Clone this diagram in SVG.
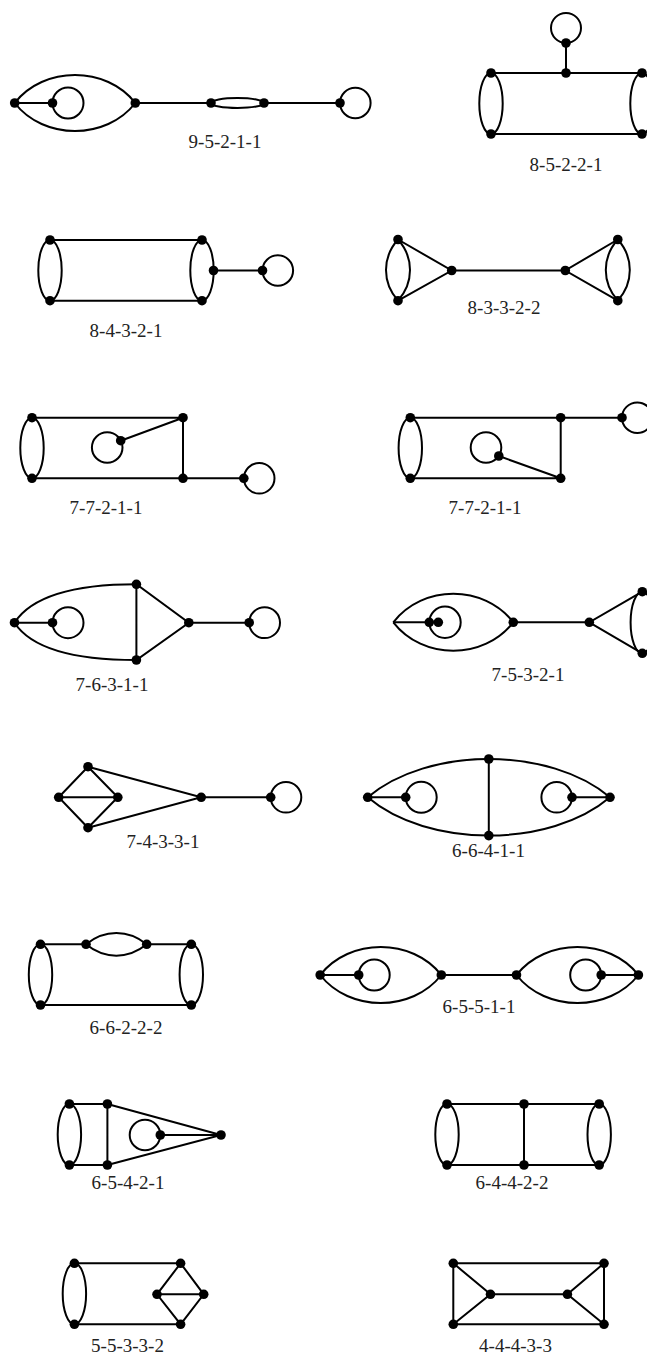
<svg xmlns="http://www.w3.org/2000/svg" width="647" height="1354" viewBox="0 0 647 1354">
<style>
.e{fill:none;stroke:#000;stroke-width:2}
.v{fill:#000}
.lb{font-family:"Liberation Serif","DejaVu Serif",serif;font-size:19px;fill:#222;text-anchor:middle}
</style>
<rect width="647" height="1354" fill="#fff"/>

<g id="graph-9-5-2-1-1">
<g class="e">
<path d="M14.7,103 C43.6,65.7 106.4,65.7 135.3,103 M14.7,103 C43.6,140.3 106.4,140.3 135.3,103"/>
<path d="M14.7,103 H52.5"/>
<circle cx="68" cy="103" r="15.5"/>
<path d="M135.3,103 H211"/>
<ellipse cx="237.5" cy="103" rx="26.5" ry="5"/>
<path d="M264,103 H340"/>
<circle cx="355.3" cy="103" r="15.3"/>
</g>
<g class="v">
<circle cx="14.7" cy="103" r="4.8"/><circle cx="52.5" cy="103" r="4.8"/><circle cx="135.3" cy="103" r="4.8"/>
<circle cx="211" cy="103" r="4.8"/><circle cx="264" cy="103" r="4.8"/><circle cx="340" cy="103" r="4.8"/>
</g>
<text class="lb" x="225" y="148">9-5-2-1-1</text>
</g>

<g id="graph-8-5-2-2-1">
<g class="e">
<path d="M491,73 H642 M491,134 H642 M566,73 V43"/>
<circle cx="566" cy="28" r="15"/>
<ellipse cx="491" cy="103.5" rx="11.7" ry="30.5"/>
<ellipse cx="642" cy="103.5" rx="11.7" ry="30.5"/>
</g>
<g class="v">
<circle cx="491" cy="73" r="4.8"/><circle cx="566" cy="73" r="4.8"/><circle cx="642" cy="73" r="4.8"/>
<circle cx="491" cy="134" r="4.8"/><circle cx="642" cy="134" r="4.8"/><circle cx="566" cy="43" r="4.8"/>
</g>
<text class="lb" x="566" y="171">8-5-2-2-1</text>
</g>

<g id="graph-8-4-3-2-1">
<g class="e">
<path d="M50,240 H202 M50,300.7 H202 M213.5,270.5 H262.5"/>
<circle cx="277.8" cy="270.5" r="15.3"/>
<ellipse cx="50" cy="270.35" rx="11.7" ry="30.35"/>
<ellipse cx="202" cy="270.35" rx="11.7" ry="30.35"/>
</g>
<g class="v">
<circle cx="50" cy="240" r="4.8"/><circle cx="50" cy="300.7" r="4.8"/><circle cx="202" cy="240" r="4.8"/>
<circle cx="202" cy="300.7" r="4.8"/><circle cx="213.5" cy="270.5" r="4.8"/><circle cx="262.5" cy="270.5" r="4.8"/>
</g>
<text class="lb" x="126" y="337">8-4-3-2-1</text>
</g>

<g id="graph-8-3-3-2-2">
<g class="e">
<path d="M398,239.5 L451.7,270.5 L398,300.7 M451.7,270.5 H565.3 M617.8,239.5 L565.3,270.5 L617.8,300.7"/>
<path d="M398,239.5 C382,257.4 382,282.8 398,300.7 M398,239.5 C414,257.4 414,282.8 398,300.7"/>
<path d="M617.8,239.5 C601.8,257.4 601.8,282.8 617.8,300.7 M617.8,239.5 C633.8,257.4 633.8,282.8 617.8,300.7"/>
</g>
<g class="v">
<circle cx="398" cy="239.5" r="4.8"/><circle cx="398" cy="300.7" r="4.8"/><circle cx="451.7" cy="270.5" r="4.8"/>
<circle cx="565.3" cy="270.5" r="4.8"/><circle cx="617.8" cy="239.5" r="4.8"/><circle cx="617.8" cy="300.7" r="4.8"/>
</g>
<text class="lb" x="504" y="314">8-3-3-2-2</text>
</g>

<g id="graph-7-7-2-1-1-a">
<g class="e">
<path d="M32,417.7 H183 V478.3 H32 M120.7,440.7 L183,417.7 M183,478.3 H243.8"/>
<circle cx="107.2" cy="447.5" r="15.3"/>
<circle cx="259.2" cy="478.3" r="15.3"/>
<ellipse cx="32" cy="448" rx="11.7" ry="30.3"/>
</g>
<g class="v">
<circle cx="32" cy="417.7" r="4.8"/><circle cx="32" cy="478.3" r="4.8"/><circle cx="183" cy="417.7" r="4.8"/>
<circle cx="183" cy="478.3" r="4.8"/><circle cx="120.7" cy="440.7" r="4.8"/><circle cx="243.8" cy="478.3" r="4.8"/>
</g>
<text class="lb" x="106" y="514">7-7-2-1-1</text>
</g>

<g id="graph-7-7-2-1-1-b">
<g class="e">
<path d="M410.3,417.7 H622 M560.7,417.7 V478.3 H410.3 M498.8,456 L560.7,478.3"/>
<circle cx="486" cy="447.5" r="15.3"/>
<circle cx="637.3" cy="417.7" r="15.3"/>
<ellipse cx="410.3" cy="448" rx="11.7" ry="30.3"/>
</g>
<g class="v">
<circle cx="410.3" cy="417.7" r="4.8"/><circle cx="410.3" cy="478.3" r="4.8"/><circle cx="560.7" cy="417.7" r="4.8"/>
<circle cx="560.7" cy="478.3" r="4.8"/><circle cx="498.8" cy="456" r="4.8"/><circle cx="622" cy="417.7" r="4.8"/>
</g>
<text class="lb" x="485" y="514">7-7-2-1-1</text>
</g>

<g id="graph-7-6-3-1-1">
<g class="e">
<path d="M14.5,622.7 H52.5"/>
<circle cx="68" cy="622.7" r="15.5"/>
<path d="M14.5,622.7 C32,596 75,584.3 136.4,584.3 M14.5,622.7 C32,649.4 75,660 136.4,660"/>
<path d="M136.4,584.3 V660 L188.8,622.7 Z M188.8,622.7 H249.2"/>
<circle cx="264.6" cy="622.7" r="15.4"/>
</g>
<g class="v">
<circle cx="14.5" cy="622.7" r="4.8"/><circle cx="52.5" cy="622.7" r="4.8"/><circle cx="136.4" cy="584.3" r="4.8"/>
<circle cx="136.4" cy="660" r="4.8"/><circle cx="188.8" cy="622.7" r="4.8"/><circle cx="249.2" cy="622.7" r="4.8"/>
</g>
<text class="lb" x="112" y="691">7-6-3-1-1</text>
</g>

<g id="graph-7-5-3-2-1">
<g class="e">
<path d="M393.3,622.3 C422.9,584.3 483.7,584.3 513.3,622.3 M393.3,622.3 C422.9,660.3 483.7,660.3 513.3,622.3"/>
<path d="M393.3,622.3 H429.3"/>
<circle cx="445" cy="622.3" r="15.7"/>
<path d="M513.3,622.3 H589.3 L642.3,591.7 M589.3,622.3 L642.3,653.3"/>
<ellipse cx="642.3" cy="622.5" rx="11.7" ry="30.8"/>
</g>
<g class="v">
<circle cx="429.3" cy="622.3" r="4.8"/><circle cx="438.3" cy="622.3" r="4.8"/><circle cx="513.3" cy="622.3" r="4.8"/>
<circle cx="589.3" cy="622.3" r="4.8"/><circle cx="642.3" cy="591.7" r="4.8"/><circle cx="642.3" cy="653.3" r="4.8"/>
</g>
<text class="lb" x="528" y="681">7-5-3-2-1</text>
</g>

<g id="graph-7-4-3-3-1">
<g class="e">
<path d="M88,766.7 L58.7,797.3 L88,827.7 L117.8,797.3 Z M58.7,797.3 H117.8 M88,766.7 L201.2,797.3 L88,827.7 M201.2,797.3 H270.7"/>
<circle cx="286" cy="797.3" r="15.3"/>
</g>
<g class="v">
<circle cx="88" cy="766.7" r="4.8"/><circle cx="58.7" cy="797.3" r="4.8"/><circle cx="117.8" cy="797.3" r="4.8"/>
<circle cx="88" cy="827.7" r="4.8"/><circle cx="201.2" cy="797.3" r="4.8"/><circle cx="270.7" cy="797.3" r="4.8"/>
</g>
<text class="lb" x="163" y="848">7-4-3-3-1</text>
</g>

<g id="graph-6-6-4-1-1">
<g class="e">
<path d="M367.7,797.3 C427.7,746.3 550,746.3 610,797.3 M367.7,797.3 C427.7,848.3 550,848.3 610,797.3"/>
<path d="M367.7,797.3 H405.7 M610,797.3 H572 M488.8,759 V835.6"/>
<circle cx="421.2" cy="797.3" r="15.5"/>
<circle cx="556.7" cy="797.3" r="15.3"/>
</g>
<g class="v">
<circle cx="367.7" cy="797.3" r="4.8"/><circle cx="405.7" cy="797.3" r="4.8"/><circle cx="488.8" cy="759" r="4.8"/>
<circle cx="488.8" cy="835.6" r="4.8"/><circle cx="572" cy="797.3" r="4.8"/><circle cx="610" cy="797.3" r="4.8"/>
</g>
<text class="lb" x="488.5" y="857">6-6-4-1-1</text>
</g>

<g id="graph-6-6-2-2-2">
<g class="e">
<path d="M40.5,944.3 H86 M146.7,944.3 H191.3 M40.5,1005 H191.3"/>
<path d="M86,944.3 C104.4,929.2 128.3,929.2 146.7,944.3 M86,944.3 C104.4,959.4 128.3,959.4 146.7,944.3"/>
<ellipse cx="40.5" cy="974.65" rx="11.7" ry="30.35"/>
<ellipse cx="191.3" cy="974.65" rx="11.7" ry="30.35"/>
</g>
<g class="v">
<circle cx="40.5" cy="944.3" r="4.8"/><circle cx="86" cy="944.3" r="4.8"/><circle cx="146.7" cy="944.3" r="4.8"/>
<circle cx="191.3" cy="944.3" r="4.8"/><circle cx="40.5" cy="1005" r="4.8"/><circle cx="191.3" cy="1005" r="4.8"/>
</g>
<text class="lb" x="126" y="1034">6-6-2-2-2</text>
</g>

<g id="graph-6-5-5-1-1">
<g class="e">
<path d="M320.2,975 C349.4,937.7 412.1,937.7 441.3,975 M320.2,975 C349.4,1012.3 412.1,1012.3 441.3,975"/>
<path d="M516.5,975 C545.7,937.7 609.2,937.7 638.4,975 M516.5,975 C545.7,1012.3 609.2,1012.3 638.4,975"/>
<path d="M320.2,975 H358.7 M441.3,975 H516.5 M601.2,975 H638.4"/>
<circle cx="374.2" cy="975" r="15.5"/>
<circle cx="585.7" cy="975" r="15.5"/>
</g>
<g class="v">
<circle cx="320.2" cy="975" r="4.8"/><circle cx="358.7" cy="975" r="4.8"/><circle cx="441.3" cy="975" r="4.8"/>
<circle cx="516.5" cy="975" r="4.8"/><circle cx="601.2" cy="975" r="4.8"/><circle cx="638.4" cy="975" r="4.8"/>
</g>
<text class="lb" x="479" y="1013">6-5-5-1-1</text>
</g>

<g id="graph-6-5-4-2-1">
<g class="e">
<path d="M69.4,1104 H107.4 V1165 H69.4 M107.4,1104 L221,1135 L107.4,1165 M160.3,1135 H221"/>
<circle cx="145" cy="1135" r="15.3"/>
<ellipse cx="69.4" cy="1134.5" rx="11.7" ry="30.5"/>
</g>
<g class="v">
<circle cx="69.4" cy="1104" r="4.8"/><circle cx="107.4" cy="1104" r="4.8"/><circle cx="69.4" cy="1165" r="4.8"/>
<circle cx="107.4" cy="1165" r="4.8"/><circle cx="221" cy="1135" r="4.8"/><circle cx="160.3" cy="1135" r="4.8"/>
</g>
<text class="lb" x="128" y="1189">6-5-4-2-1</text>
</g>

<g id="graph-6-4-4-2-2">
<g class="e">
<path d="M447,1104 H599.2 M447,1165 H599.2 M524,1104 V1165"/>
<ellipse cx="447" cy="1134.5" rx="11.7" ry="30.5"/>
<ellipse cx="599.2" cy="1134.5" rx="11.7" ry="30.5"/>
</g>
<g class="v">
<circle cx="447" cy="1104" r="4.8"/><circle cx="524" cy="1104" r="4.8"/><circle cx="599.2" cy="1104" r="4.8"/>
<circle cx="447" cy="1165" r="4.8"/><circle cx="524" cy="1165" r="4.8"/><circle cx="599.2" cy="1165" r="4.8"/>
</g>
<text class="lb" x="512" y="1189">6-4-4-2-2</text>
</g>

<g id="graph-5-5-3-3-2">
<g class="e">
<path d="M74.4,1263.3 H180.6 L157,1294.3 L180.6,1324.3 H74.4 M180.6,1263.3 L203.7,1294.3 L180.6,1324.3 M157,1294.3 H203.7"/>
<ellipse cx="74.4" cy="1293.8" rx="11.7" ry="30.5"/>
</g>
<g class="v">
<circle cx="74.4" cy="1263.3" r="4.8"/><circle cx="74.4" cy="1324.3" r="4.8"/><circle cx="180.6" cy="1263.3" r="4.8"/>
<circle cx="180.6" cy="1324.3" r="4.8"/><circle cx="157" cy="1294.3" r="4.8"/><circle cx="203.7" cy="1294.3" r="4.8"/>
</g>
<text class="lb" x="127.5" y="1352">5-5-3-3-2</text>
</g>

<g id="graph-4-4-4-3-3">
<g class="e">
<path d="M453.3,1263.3 H604 V1324.3 H453.3 Z M453.3,1263.3 L490.5,1294.3 L453.3,1324.3 M490.5,1294.3 H567.4 M604,1263.3 L567.4,1294.3 L604,1324.3"/>
</g>
<g class="v">
<circle cx="453.3" cy="1263.3" r="4.8"/><circle cx="453.3" cy="1324.3" r="4.8"/><circle cx="604" cy="1263.3" r="4.8"/>
<circle cx="604" cy="1324.3" r="4.8"/><circle cx="490.5" cy="1294.3" r="4.8"/><circle cx="567.4" cy="1294.3" r="4.8"/>
</g>
<text class="lb" x="515.5" y="1352">4-4-4-3-3</text>
</g>
</svg>
